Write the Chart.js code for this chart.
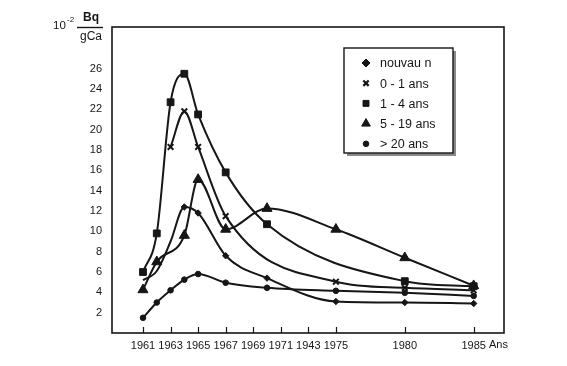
<!DOCTYPE html>
<html>
<head>
<meta charset="utf-8">
<script src="https://cdn.jsdelivr.net/npm/chart.js@4/dist/chart.umd.min.js"></script>
<style>
  html, body { margin: 0; padding: 0; background: #fff; }
  #wrap { width: 567px; height: 366px; }
</style>
</head>
<body>
<div id="wrap"><canvas id="c" width="567" height="366"></canvas></div>
<script>
// data (10^-2 Bq / gCa)
const xTickValues = [1961, 1963, 1965, 1967, 1969, 1971, 1973, 1975, 1980, 1985];
const xTickLabels = ["1961", "1963", "1965", "1967", "1969", "1971", "1943", "1975", "1980", "1985"];
const yTickValues = [2, 4, 6, 8, 10, 12, 14, 16, 18, 20, 22, 24, 26];

const nouveauYears = [1961, 1962, 1963, 1964, 1965, 1967, 1970, 1975, 1980, 1985];
const nouveauVals  = [5.2, 6.1, 9.0, 12.4, 11.8, 7.6, 5.4, 3.1, 3.0, 2.9];

const ans01Years = [1963, 1964, 1965, 1967, 1975, 1980, 1985];
const ans01Vals  = [18.3, 21.8, 18.3, 11.5, 5.05, 4.45, 4.2];

const ans14Years = [1961, 1962, 1963, 1964, 1965, 1967, 1970, 1980, 1985];
const ans14Vals  = [6.0, 9.8, 22.7, 25.5, 21.5, 15.8, 10.7, 5.1, 4.6];

const ans519Years = [1961, 1962, 1964, 1965, 1967, 1970, 1975, 1980, 1985];
const ans519Vals  = [4.25, 7.0, 9.6, 15.1, 10.2, 12.25, 10.2, 7.4, 4.65];

const ans20Years = [1961, 1962, 1963, 1964, 1965, 1967, 1970, 1975, 1980, 1985];
const ans20Vals  = [1.5, 3.0, 4.2, 5.25, 5.8, 4.95, 4.45, 4.15, 3.95, 3.65];

const seriesLabels = ["nouvau n", "0 - 1 ans", "1 - 4 ans", "5 - 19 ans", "> 20 ans"];

const INK = "#161616";
const FONT = "'Liberation Sans', Arial, sans-serif";

function pts(xs, ys) { return xs.map((x, i) => ({ x: x, y: ys[i] })); }

function ds(label, data, style, radius, extra) {
  return Object.assign({
    label: label,
    data: data,
    borderColor: INK,
    backgroundColor: INK,
    borderWidth: 2,
    pointStyle: style,
    pointRadius: radius,
    pointBorderWidth: 1,
    pointBackgroundColor: INK,
    pointBorderColor: INK,
    cubicInterpolationMode: "monotone",
    fill: false
  }, extra || {});
}

const datasets = [
  ds(seriesLabels[0], pts(nouveauYears, nouveauVals), "rectRot", 3.2,
     { pointRadius: c => c.dataIndex < 3 ? 0 : 3.2 }),
  ds(seriesLabels[1], pts(ans01Years, ans01Vals), "crossRot", 4, { pointBorderWidth: 2 }),
  ds(seriesLabels[2], pts(ans14Years, ans14Vals), "rect", 4.8),
  ds(seriesLabels[3], pts(ans519Years, ans519Vals), "triangle", 5.8),
  ds(seriesLabels[4], pts(ans20Years, ans20Vals), "circle", 2.8)
];

// frame, inner x ticks, unit label, legend box
const decor = {
  id: "decor",
  afterDraw(chart) {
    const ctx = chart.ctx;
    const a = chart.chartArea;
    const xs = chart.scales.x;
    ctx.save();
    ctx.strokeStyle = INK;
    ctx.lineWidth = 1.6;
    ctx.strokeRect(a.left, a.top, a.right - a.left, a.bottom - a.top);
    ctx.beginPath();
    xTickValues.forEach(v => {
      const px = Math.round(xs.getPixelForValue(v)) + 0.5;
      ctx.moveTo(px, a.bottom);
      ctx.lineTo(px, a.bottom - 6);
    });
    ctx.lineWidth = 1.2;
    ctx.stroke();

    // "Ans" after last tick
    ctx.fillStyle = INK;
    ctx.font = "11px " + FONT;
    ctx.textBaseline = "middle";
    ctx.textAlign = "left";
    ctx.fillText("Ans", 489, 345);

    // unit: 10^-2 Bq/gCa
    ctx.font = "11.5px " + FONT;
    ctx.fillText("10", 53, 26);
    ctx.font = "8px " + FONT;
    ctx.fillText("-2", 67, 20);
    ctx.font = "bold 12px " + FONT;
    ctx.textAlign = "center";
    ctx.fillText("Bq", 91, 18);
    ctx.font = "12px " + FONT;
    ctx.fillText("gCa", 91, 37);
    ctx.beginPath();
    ctx.moveTo(77, 27.5);
    ctx.lineTo(103, 27.5);
    ctx.lineWidth = 1.4;
    ctx.stroke();

    // legend box with shadow
    const bx = 344, by = 48, bw = 109, bh = 105;
    ctx.fillStyle = "#8a8a8a";
    ctx.fillRect(bx + 3, by + 3, bw, bh);
    ctx.fillStyle = "#fff";
    ctx.fillRect(bx, by, bw, bh);
    ctx.strokeStyle = INK;
    ctx.lineWidth = 1.4;
    ctx.strokeRect(bx, by, bw, bh);

    ctx.font = "12.5px " + FONT;
    ctx.textAlign = "left";
    ctx.textBaseline = "middle";
    chart.data.datasets.forEach((d, i) => {
      const y = 63 + i * 20.2;
      ctx.fillStyle = INK;
      ctx.strokeStyle = INK;
      ctx.lineWidth = d.pointStyle === "crossRot" ? 2.2 : 1;
      const r = { rectRot: 4, crossRot: 3.8, rect: 4.2, triangle: 5, circle: 2.8 }[d.pointStyle];
      Chart.helpers.drawPoint(ctx, { pointStyle: d.pointStyle, rotation: 0, radius: r, borderWidth: ctx.lineWidth }, 366, y);
      ctx.fillStyle = INK;
      ctx.fillText(d.label, 380, y + 1);
    });
    ctx.restore();
  }
};

new Chart(document.getElementById("c"), {
  type: "line",
  data: { datasets: datasets },
  options: {
    responsive: false,
    animation: false,
    layout: { padding: { top: 27, right: 63, left: 0, bottom: 0 } },
    plugins: { legend: { display: false }, tooltip: { enabled: false } },
    scales: {
      x: {
        type: "linear",
        min: 1958.75,
        max: 1987.2,
        afterBuildTicks: s => { s.ticks = xTickValues.map(v => ({ value: v })); },
        afterFit: s => { s.height = 33; },
        grid: { display: false, drawTicks: false, tickLength: 0 },
        border: { display: false },
        ticks: {
          autoSkip: false,
          maxRotation: 0,
          padding: 6,
          color: INK,
          font: { family: FONT, size: 11 },
          callback: v => xTickLabels[xTickValues.indexOf(v)]
        }
      },
      y: {
        min: 0,
        max: 30.1,
        afterBuildTicks: s => { s.ticks = yTickValues.map(v => ({ value: v })); },
        afterFit: s => { s.width = 112; },
        grid: { display: false, drawTicks: false, tickLength: 0 },
        border: { display: false },
        ticks: {
          padding: 10,
          color: INK,
          font: { family: FONT, size: 11 }
        }
      }
    }
  },
  plugins: [decor]
});
</script>
</body>
</html>
